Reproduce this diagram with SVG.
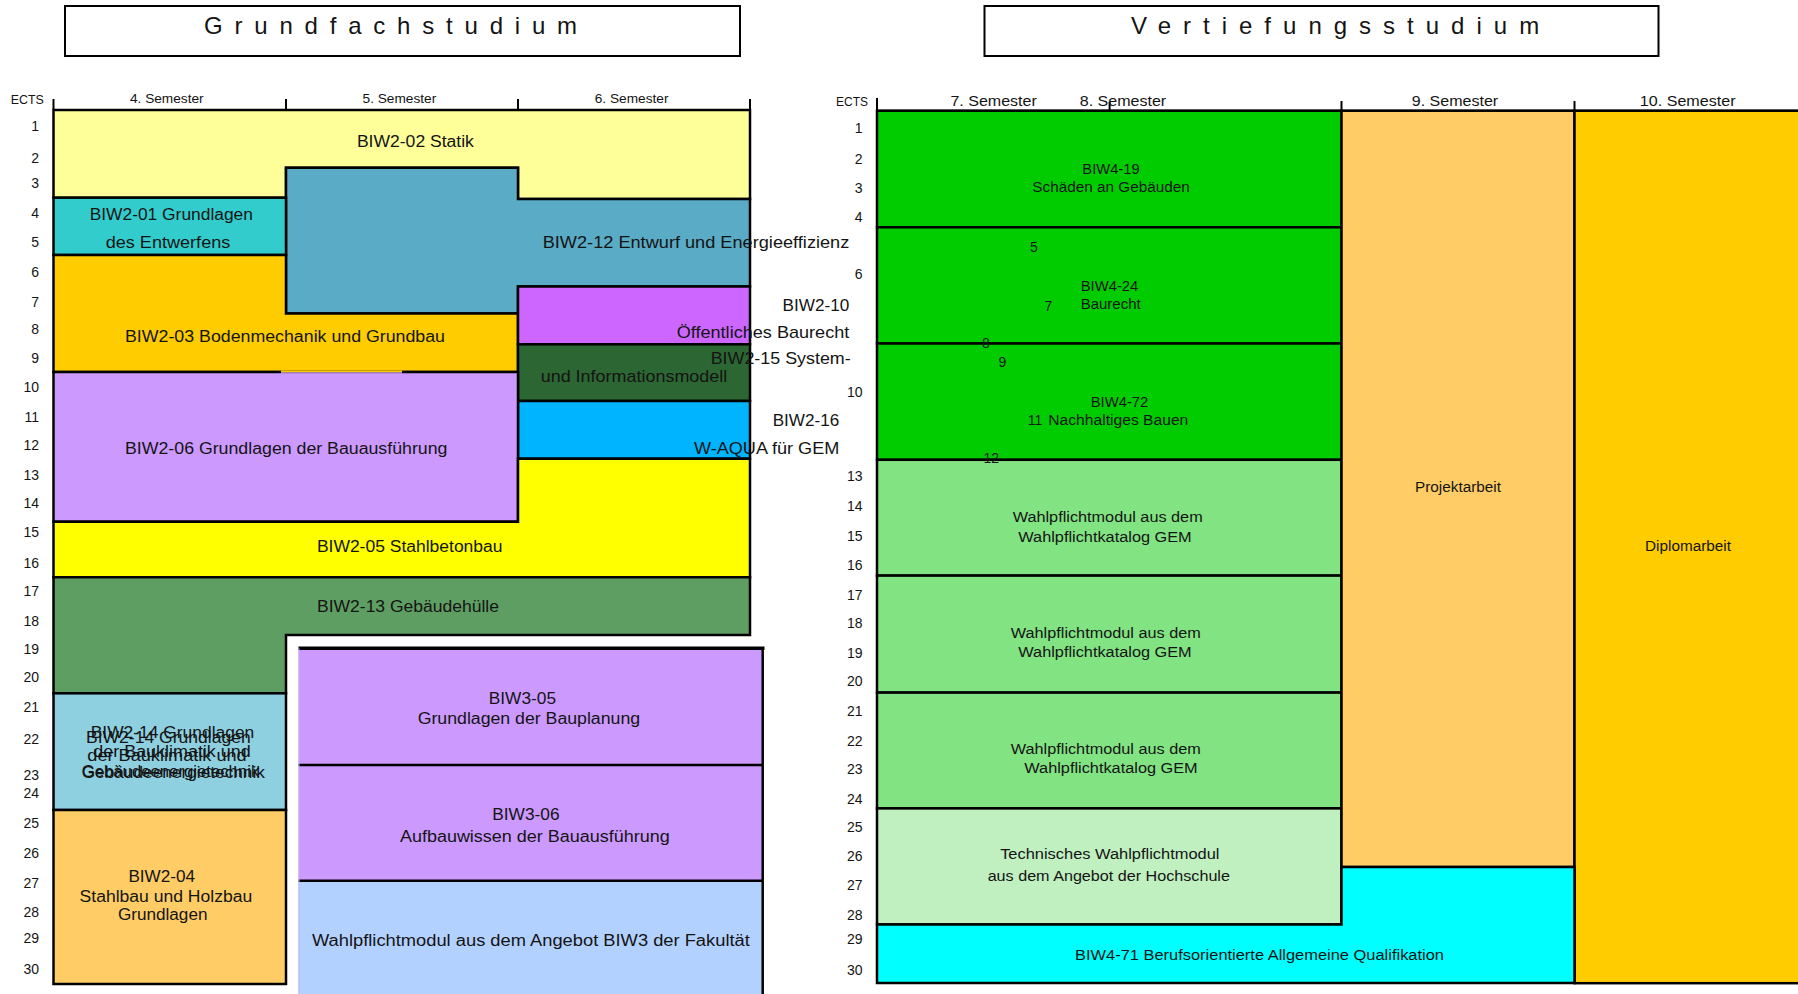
<svg xmlns="http://www.w3.org/2000/svg" width="1798" height="994" viewBox="0 0 1798 994">
<style>
text{font-family:"Liberation Sans",Arial,Helvetica,sans-serif;fill:#141414}
.ttl{font-size:24px;letter-spacing:11.8px}
.sem{font-size:13px;text-anchor:middle}
.semr{font-size:14.5px;text-anchor:middle}
.num{font-size:14px;text-anchor:end}
.sn{font-size:14px;text-anchor:middle}
.c{font-size:16px;text-anchor:middle}
.w{font-size:17px}
.e{text-anchor:end}
.s{font-size:14px;text-anchor:middle}
.bx{stroke:#000;stroke-width:2.5}
.ln{stroke:#000;stroke-width:2.5;fill:none}
.ax{stroke:#000;stroke-width:2;fill:none}
</style>
<rect x="0" y="0" width="1798" height="994" fill="#ffffff"/>

<!-- Titles -->
<g id="title-grundfach">
<rect x="65" y="6" width="675" height="50" fill="#fff" stroke="#000" stroke-width="2"/>
<text class="ttl" x="204" y="34">Grundfachstudium</text>
</g>
<g id="title-vertiefung">
<rect x="984.5" y="6" width="674" height="50" fill="#fff" stroke="#000" stroke-width="2"/>
<text class="ttl" x="1131" y="34" style="letter-spacing:12px">Vertiefungsstudium</text>
</g>

<!-- Left chart nodes -->
<g id="biw2-02">
<polygon class="bx" fill="#FFFF99" points="53.5,110 750,110 750,199 518,199 518,167.7 286,167.7 286,197.7 53.5,197.7"/>
<text class="c" x="415.4" y="146.7" textLength="117" lengthAdjust="spacingAndGlyphs">BIW2-02  Statik</text>
</g>
<g id="biw2-12">
<polygon class="bx" fill="#5AABC6" points="286,167.7 518,167.7 518,199 750,199 750,286.5 518,286.5 518,313.5 286,313.5"/>
<text class="w" x="542.7" y="247.7" textLength="306.6" lengthAdjust="spacingAndGlyphs">BIW2-12 Entwurf und Energieeffizienz</text>
</g>
<g id="biw2-01">
<rect class="bx" fill="#33CCCC" x="53.5" y="197.7" width="232.5" height="57.3"/>
<text class="c" x="171.3" y="220" textLength="163.3" lengthAdjust="spacingAndGlyphs">BIW2-01  Grundlagen</text>
<text class="c" x="168" y="248" textLength="124.6" lengthAdjust="spacingAndGlyphs">des Entwerfens</text>
</g>
<g id="biw2-03">
<polygon class="bx" fill="#FFCC00" points="53.5,255 286,255 286,313.5 518,313.5 518,372 53.5,372"/>
<text class="c" x="285" y="341.7" textLength="320" lengthAdjust="spacingAndGlyphs">BIW2-03  Bodenmechanik  und Grundbau</text>
</g>
<g id="biw2-10">
<rect class="bx" fill="#CC66FF" x="518" y="286.5" width="232" height="57.8"/>
<text class="w e" x="849.3" y="310.7" textLength="66.7" lengthAdjust="spacingAndGlyphs">BIW2-10</text>
<text class="w e" x="849.3" y="338.3" textLength="172.6" lengthAdjust="spacingAndGlyphs">Öffentliches Baurecht</text>
</g>
<g id="biw2-15">
<rect class="bx" fill="#2C6633" x="518" y="344.3" width="232" height="56.7"/>
<text class="w e" x="850.7" y="364.3" textLength="140" lengthAdjust="spacingAndGlyphs">BIW2-15 System-</text>
<text class="w" x="540.7" y="382.3" textLength="186.6" lengthAdjust="spacingAndGlyphs">und Informationsmodell</text>
</g>
<g id="biw2-16">
<rect class="bx" fill="#00B4FF" x="518" y="401" width="232" height="57.7"/>
<text class="w e" x="839.3" y="426" textLength="66.6" lengthAdjust="spacingAndGlyphs">BIW2-16</text>
<text class="w e" x="839.3" y="454" textLength="145.3" lengthAdjust="spacingAndGlyphs">W-AQUA für GEM</text>
</g>
<g id="biw2-06">
<rect class="bx" fill="#CC99FF" x="53.5" y="372" width="464.5" height="149.7"/>
<rect x="281" y="370.5" width="121" height="1.9" fill="#FFCC00"/>
<rect x="281" y="372.4" width="121" height="1.2" fill="#CC99FF"/>
<text class="c" x="286.2" y="454" textLength="322.4" lengthAdjust="spacingAndGlyphs">BIW2-06  Grundlagen  der  Bauausführung</text>
</g>
<g id="biw2-05">
<polygon class="bx" fill="#FFFF00" points="518,458.7 750,458.7 750,577.3 53.5,577.3 53.5,521.7 518,521.7"/>
<text class="c" x="409.7" y="551.7" textLength="185.6" lengthAdjust="spacingAndGlyphs">BIW2-05  Stahlbetonbau</text>
</g>
<g id="biw2-13">
<polygon class="bx" fill="#5F9E63" points="53.5,577.3 750,577.3 750,635 286,635 286,693.3 53.5,693.3"/>
<text class="c" x="408" y="611.7" textLength="182" lengthAdjust="spacingAndGlyphs">BIW2-13  Gebäudehülle</text>
</g>
<g id="biw2-14">
<rect class="bx" fill="#8ECFE0" x="53.5" y="693.3" width="232.5" height="116.7"/>
<text class="c" x="172.5" y="737.7" textLength="163.6" lengthAdjust="spacingAndGlyphs">BIW2-14  Grundlagen</text>
<text class="c" x="172" y="756.7" textLength="157.4" lengthAdjust="spacingAndGlyphs">der  Bauklimatik  und</text>
<text class="c" x="170.5" y="776.7" textLength="177.6" lengthAdjust="spacingAndGlyphs">Gebäudeenergietechnik</text>
<text class="c" x="168.3" y="743.3" textLength="164.7" lengthAdjust="spacingAndGlyphs">BIW2-14  Grundlagen</text>
<text class="c" x="167" y="761" textLength="159.4" lengthAdjust="spacingAndGlyphs">der  Bauklimatik  und</text>
<text class="c" x="173.3" y="778.3" textLength="183.3" lengthAdjust="spacingAndGlyphs">Gebäudeenergietechnik</text>
</g>
<g id="biw2-04">
<rect class="bx" fill="#FFCC66" x="53.5" y="810" width="232.5" height="174"/>
<text class="c" x="161.7" y="882" textLength="66.6" lengthAdjust="spacingAndGlyphs">BIW2-04</text>
<text class="c" x="165.9" y="902" textLength="172.6" lengthAdjust="spacingAndGlyphs">Stahlbau  und Holzbau</text>
<text class="c" x="162.7" y="920" textLength="89.5" lengthAdjust="spacingAndGlyphs">Grundlagen</text>
</g>
<g id="biw3-05">
<rect fill="#CC99FF" x="298.5" y="648.3" width="464.2" height="116.7"/>
<text class="c" x="522.4" y="703.7" textLength="67.2" lengthAdjust="spacingAndGlyphs">BIW3-05</text>
<text class="c" x="528.9" y="724.3" textLength="222.4" lengthAdjust="spacingAndGlyphs">Grundlagen  der  Bauplanung</text>
</g>
<g id="biw3-06">
<rect fill="#CC99FF" x="298.5" y="765" width="464.2" height="115.7"/>
<text class="c" x="525.9" y="820" textLength="67.2" lengthAdjust="spacingAndGlyphs">BIW3-06</text>
<text class="c" x="534.8" y="841.7" textLength="269.7" lengthAdjust="spacingAndGlyphs">Aufbauwissen  der  Bauausführung</text>
</g>
<g id="biw3-wahlpflicht">
<rect fill="#B3D1FF" x="298.5" y="880.7" width="464.2" height="114"/>
<text class="c" x="530.9" y="946" textLength="437.8" lengthAdjust="spacingAndGlyphs">Wahlpflichtmodul aus dem Angebot BIW3 der Fakultät</text>
</g>
<g id="biw3-lines">
<line x1="298.5" y1="648.3" x2="764.5" y2="648.3" stroke="#000" stroke-width="3.5"/>
<line class="ln" x1="762.7" y1="648.3" x2="762.7" y2="994"/>
<line class="ln" x1="298.5" y1="765" x2="762.7" y2="765"/>
<line class="ln" x1="298.5" y1="880.7" x2="762.7" y2="880.7"/>
<line x1="299" y1="648.3" x2="299" y2="994" stroke="#BFB0EE" stroke-width="1"/>
</g>

<!-- Right chart nodes -->
<g id="biw4-19">
<rect class="bx" fill="#00CC00" x="877" y="110.7" width="464.5" height="116.6"/>
<text class="s" x="1111" y="174" textLength="57.4" lengthAdjust="spacingAndGlyphs">BIW4-19</text>
<text class="s" x="1111" y="191.7" textLength="157.4" lengthAdjust="spacingAndGlyphs">Schäden an Gebäuden</text>
</g>
<g id="biw4-24">
<rect class="bx" fill="#00CC00" x="877" y="227.3" width="464.5" height="116.2"/>
<text class="s" x="1109.5" y="290.7" textLength="57.6" lengthAdjust="spacingAndGlyphs">BIW4-24</text>
<text class="s" x="1110.7" y="309" textLength="60" lengthAdjust="spacingAndGlyphs">Baurecht</text>
</g>
<g id="biw4-72">
<rect class="bx" fill="#00CC00" x="877" y="343.5" width="464.5" height="116.3"/>
<text class="s" x="1119.5" y="406.7" textLength="57.6" lengthAdjust="spacingAndGlyphs">BIW4-72</text>
<text class="s" x="1118.3" y="425" textLength="140" lengthAdjust="spacingAndGlyphs">Nachhaltiges  Bauen</text>
</g>
<g id="wahlpflicht-gem-1">
<rect class="bx" fill="#82E382" x="877" y="459.8" width="464.5" height="115.8"/>
<text class="s" x="1107.7" y="521.7" textLength="190" lengthAdjust="spacingAndGlyphs">Wahlpflichtmodul  aus  dem</text>
<text class="s" x="1105" y="541.7" textLength="173.4" lengthAdjust="spacingAndGlyphs">Wahlpflichtkatalog  GEM</text>
</g>
<g id="wahlpflicht-gem-2">
<rect class="bx" fill="#82E382" x="877" y="575.6" width="464.5" height="117"/>
<text class="s" x="1105.8" y="637.7" textLength="190" lengthAdjust="spacingAndGlyphs">Wahlpflichtmodul  aus  dem</text>
<text class="s" x="1105" y="657.4" textLength="173.4" lengthAdjust="spacingAndGlyphs">Wahlpflichtkatalog  GEM</text>
</g>
<g id="wahlpflicht-gem-3">
<rect class="bx" fill="#82E382" x="877" y="692.6" width="464.5" height="115.8"/>
<text class="s" x="1105.8" y="753.8" textLength="190" lengthAdjust="spacingAndGlyphs">Wahlpflichtmodul  aus  dem</text>
<text class="s" x="1111" y="773.2" textLength="173.4" lengthAdjust="spacingAndGlyphs">Wahlpflichtkatalog  GEM</text>
</g>
<g id="technisches-wahlpflicht">
<rect class="bx" fill="#C0F0C0" x="877" y="808.4" width="464.5" height="116"/>
<text class="s" x="1109.8" y="859.4" textLength="219.3" lengthAdjust="spacingAndGlyphs">Technisches   Wahlpflichtmodul</text>
<text class="s" x="1108.8" y="881.2" textLength="242.3" lengthAdjust="spacingAndGlyphs">aus  dem  Angebot  der  Hochschule</text>
</g>
<g id="projektarbeit">
<rect class="bx" fill="#FFCC66" x="1341.5" y="110.7" width="233" height="756.3"/>
<text class="s" x="1458" y="492" textLength="86" lengthAdjust="spacingAndGlyphs">Projektarbeit</text>
</g>
<g id="diplomarbeit">
<rect class="bx" fill="#FFCC00" x="1574.5" y="110.7" width="230" height="872.5"/>
<text class="s" x="1688" y="551" textLength="86" lengthAdjust="spacingAndGlyphs">Diplomarbeit</text>
</g>
<g id="biw4-71">
<polygon class="bx" fill="#00FFFF" points="877,924.4 1341.5,924.4 1341.5,867 1574.5,867 1574.5,983 877,983"/>
<text style="font-size:14px" x="1075" y="959.5" textLength="369" lengthAdjust="spacingAndGlyphs">BIW4-71  Berufsorientierte  Allgemeine  Qualifikation</text>
</g>

<!-- Axes (connectors) -->
<g id="axes">
<line class="ax" x1="53.5" y1="110" x2="750" y2="110"/>
<line class="ax" x1="53.5" y1="99" x2="53.5" y2="110"/>
<line class="ax" x1="286" y1="99" x2="286" y2="110"/>
<line class="ax" x1="518" y1="99" x2="518" y2="110"/>
<line class="ax" x1="750" y1="99" x2="750" y2="110"/>
<line class="ax" x1="877" y1="110.7" x2="1798" y2="110.7"/>
<line class="ax" x1="877" y1="98" x2="877" y2="110.7"/>
<line class="ax" x1="1109.6" y1="102" x2="1109.6" y2="110.7"/>
<line class="ax" x1="1341.5" y1="101" x2="1341.5" y2="110.7"/>
<line class="ax" x1="1574.5" y1="101" x2="1574.5" y2="110.7"/>
</g>

<!-- Axis labels left -->
<g id="axis-left-labels">
<text style="font-size:13px" x="10.7" y="104" textLength="33" lengthAdjust="spacingAndGlyphs">ECTS</text>
<text class="sem" x="166.8" y="103" textLength="73.7" lengthAdjust="spacingAndGlyphs">4. Semester</text>
<text class="sem" x="399.4" y="103" textLength="73.7" lengthAdjust="spacingAndGlyphs">5. Semester</text>
<text class="sem" x="631.6" y="103" textLength="73.7" lengthAdjust="spacingAndGlyphs">6. Semester</text>
<text class="num" x="39" y="131">1</text>
<text class="num" x="39" y="162.7">2</text>
<text class="num" x="39" y="188">3</text>
<text class="num" x="39" y="218">4</text>
<text class="num" x="39" y="246.7">5</text>
<text class="num" x="39" y="276.7">6</text>
<text class="num" x="39" y="306.7">7</text>
<text class="num" x="39" y="334">8</text>
<text class="num" x="39" y="363">9</text>
<text class="num" x="39" y="391.7">10</text>
<text class="num" x="39" y="421.7">11</text>
<text class="num" x="39" y="450">12</text>
<text class="num" x="39" y="480">13</text>
<text class="num" x="39" y="508">14</text>
<text class="num" x="39" y="536.7">15</text>
<text class="num" x="39" y="568">16</text>
<text class="num" x="39" y="596">17</text>
<text class="num" x="39" y="626">18</text>
<text class="num" x="39" y="654">19</text>
<text class="num" x="39" y="682">20</text>
<text class="num" x="39" y="712">21</text>
<text class="num" x="39" y="744">22</text>
<text class="num" x="39" y="780">23</text>
<text class="num" x="39" y="798">24</text>
<text class="num" x="39" y="828">25</text>
<text class="num" x="39" y="858">26</text>
<text class="num" x="39" y="888">27</text>
<text class="num" x="39" y="917">28</text>
<text class="num" x="39" y="943">29</text>
<text class="num" x="39" y="974">30</text>
</g>

<!-- Axis labels right -->
<g id="axis-right-labels">
<text style="font-size:13.5px" x="836" y="106" textLength="32" lengthAdjust="spacingAndGlyphs">ECTS</text>
<text class="semr" x="993.6" y="106" textLength="86.4" lengthAdjust="spacingAndGlyphs">7. Semester</text>
<text class="semr" x="1123" y="106" textLength="86.4" lengthAdjust="spacingAndGlyphs">8. Semester</text>
<text class="semr" x="1455" y="106" textLength="86.4" lengthAdjust="spacingAndGlyphs">9. Semester</text>
<text class="semr" x="1687.7" y="106" textLength="95.7" lengthAdjust="spacingAndGlyphs">10. Semester</text>
<text class="num" x="862.5" y="133">1</text>
<text class="num" x="862.5" y="163.5">2</text>
<text class="num" x="862.5" y="193">3</text>
<text class="num" x="862.5" y="222">4</text>
<text class="num" x="862.5" y="279.3">6</text>
<text class="num" x="862.5" y="397">10</text>
<text class="num" x="862.5" y="481">13</text>
<text class="num" x="862.5" y="511">14</text>
<text class="num" x="862.5" y="541">15</text>
<text class="num" x="862.5" y="569.5">16</text>
<text class="num" x="862.5" y="599.5">17</text>
<text class="num" x="862.5" y="628">18</text>
<text class="num" x="862.5" y="657.5">19</text>
<text class="num" x="862.5" y="686">20</text>
<text class="num" x="862.5" y="716">21</text>
<text class="num" x="862.5" y="745.5">22</text>
<text class="num" x="862.5" y="774.2">23</text>
<text class="num" x="862.5" y="803.5">24</text>
<text class="num" x="862.5" y="831.5">25</text>
<text class="num" x="862.5" y="861">26</text>
<text class="num" x="862.5" y="889.5">27</text>
<text class="num" x="862.5" y="919.5">28</text>
<text class="num" x="862.5" y="943.8">29</text>
<text class="num" x="862.5" y="975.2">30</text>
<text class="sn" x="1034" y="252.3">5</text>
<text class="sn" x="1048.3" y="310.7">7</text>
<text class="sn" x="986" y="348.3">8</text>
<text class="sn" x="1002.3" y="366.7">9</text>
<text class="sn" x="1035" y="425">11</text>
<text class="sn" x="991.3" y="462.7">12</text>
</g>
</svg>
